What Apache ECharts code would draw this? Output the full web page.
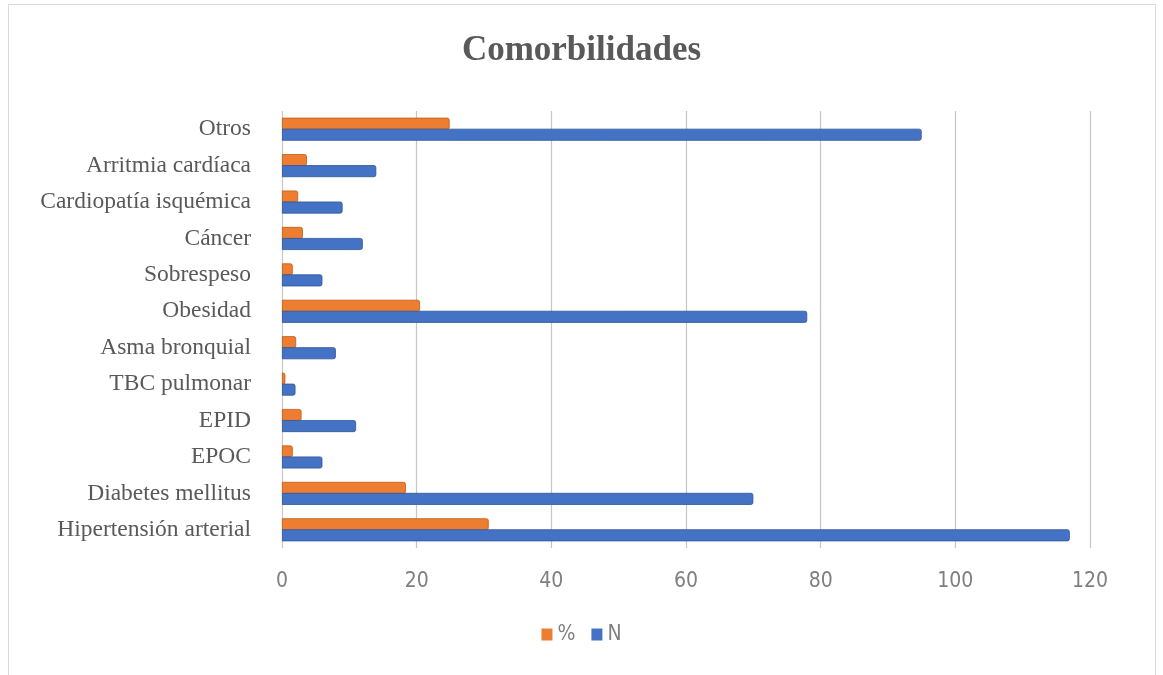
<!DOCTYPE html>
<html>
<head>
<meta charset="utf-8">
<script src="https://cdn.jsdelivr.net/npm/echarts@6/dist/echarts.min.js"></script>
<style>html,body{margin:0;padding:0;background:#fff}#c{width:1163px;height:675px}</style>
</head>
<body>
<div id="c"></div>
<script>
const categories = ['Hipertensión arterial','Diabetes mellitus','EPOC','EPID','TBC pulmonar','Asma bronquial','Obesidad','Sobrespeso','Cáncer','Cardiopatía isquémica','Arritmia cardíaca','Otros'];
const valuesN = [117, 70, 6, 11, 2, 8, 78, 6, 12, 9, 14, 95];
const valuesPct = [30.7, 18.4, 1.6, 2.9, 0.5, 2.1, 20.5, 1.6, 3.1, 2.4, 3.7, 24.9];
const xTicks = [0, 20, 40, 60, 80, 100, 120];

const chart = echarts.init(document.getElementById('c'));
const lightFont = "'DejaVu Sans Condensed', 'Liberation Sans Narrow', sans-serif";
chart.setOption({
  animation: false,
  backgroundColor: '#fff',
  title: {
    text: 'Comorbilidades',
    left: 'center',
    top: 28,
    textStyle: { fontFamily: "'Liberation Serif', 'DejaVu Serif', serif", fontSize: 35, fontWeight: 'bold', color: '#595959' }
  },
  graphic: [{
    type: 'rect', shape: { x: 8.5, y: 4.5, width: 1147, height: 700 },
    style: { fill: 'none', stroke: '#d9d9d9', lineWidth: 1 }, silent: true
  }],
  legend: {
    data: ['%', 'N'],
    bottom: 25,
    left: 'center',
    itemWidth: 11, itemHeight: 12, itemGap: 16,
    icon: 'rect',
    itemStyle: { borderWidth: 0 },
    textStyle: { fontFamily: lightFont, fontSize: 21, fontWeight: 200, color: '#7f7f7f' }
  },
  grid: { left: 282, right: 73, top: 111, bottom: 127 },
  xAxis: {
    type: 'value', min: xTicks[0], max: xTicks[xTicks.length - 1], interval: 20,
    axisLine: { show: false }, axisTick: { show: false },
    splitLine: { show: true, lineStyle: { color: '#c6c6c6', width: 1.2 } },
    axisLabel: { margin: 23, fontFamily: lightFont, fontSize: 21, fontWeight: 200, color: '#7f7f7f' }
  },
  yAxis: {
    type: 'category', data: categories,
    axisLine: { show: false }, axisTick: { show: false },
    axisLabel: { margin: 31, fontFamily: "'Liberation Serif', 'DejaVu Serif', serif", fontSize: 23.5, color: '#595959' }
  },
  series: [
    {
      name: '%', type: 'bar', data: valuesPct, barWidth: 12, barGap: '-8%',
      itemStyle: { color: '#ED7D31', borderColor: '#c55a11', borderWidth: 0.8, borderRadius: [0, 2, 2, 0] }
    },
    {
      name: 'N', type: 'bar', data: valuesN, barWidth: 12, barGap: '-8%',
      itemStyle: { color: '#4472C4', borderColor: '#2f5597', borderWidth: 0.8, borderRadius: [0, 2, 2, 0] }
    }
  ]
});
</script>
</body>
</html>
